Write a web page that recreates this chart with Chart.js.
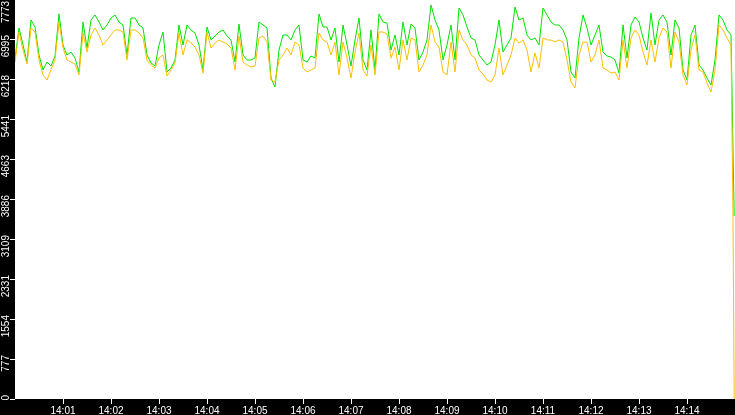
<!DOCTYPE html>
<html>
<head>
<meta charset="utf-8">
<script src="https://cdn.jsdelivr.net/npm/chart.js@4.4.1/dist/chart.umd.min.js"></script>
<style>
  html, body { margin: 0; padding: 0; background: #000; }
  canvas { display: block; }
</style>
</head>
<body>
<canvas id="c" width="735" height="415"></canvas>
<script>
// ---- data ----
const SAMPLE_STEP_SEC = 5;            // one reading every 5 s from 14:00:00
const END_TIMES_SEC = [897.5, 899];   // final readings just before 14:15

const GREEN = [
  6627,7210,6880,6549,7365,7229,6685,6394,6549,6471,6666,7482,6880,6685,6743,6627,6355,7326,6821,7365,
  7463,7326,7171,7268,7404,7463,7326,7268,6685,7404,7404,7268,7210,6685,6530,6471,6880,7132,6355,6433,
  6588,7268,6880,7268,7171,7113,6880,6394,7229,6977,7054,7132,7171,7054,6977,6549,7288,6685,6588,6588,
  6627,7326,7268,7210,6238,6063,6782,7074,7074,6977,7171,7268,6588,6549,6666,6627,7482,7229,7229,6977,
  7210,6549,7268,6880,6471,6977,7404,6588,6394,7171,6394,7482,7326,7307,6782,7074,6685,7326,6880,7288,
  7210,6588,6743,6977,7657,7365,7171,6588,6880,7268,6588,7599,7463,7229,7016,6977,6685,6588,6491,6549,
  6880,7365,6743,6880,7016,7618,7365,7404,7074,6977,7016,6880,7599,7463,7326,7268,7268,7171,6977,6355,
  6238,7016,7463,7210,6880,7074,7268,6743,6666,6646,6588,6335,7268,6627,7268,7424,7326,7016,6782,7501,
  6880,7365,7463,7326,6685,7365,7210,6394,6199,7074,7268,6491,6394,6238,6102,6588,7463,7365,7171,7074,
  3556
];

const YELLOW = [
  6549,7132,6782,6510,7210,7132,6588,6297,6199,6394,6588,7326,6821,6588,6549,6510,6297,7113,6743,7074,
  7210,7074,6880,6977,7074,7171,7171,7132,6588,7171,7171,7113,7016,6588,6491,6433,6627,6685,6277,6394,
  6530,7113,6685,6977,6918,6841,6685,6335,7132,6821,6918,6977,6938,6899,6821,6394,7054,6549,6491,6452,
  6471,7016,7054,6938,6199,6160,6588,6685,6821,6685,6938,6880,6433,6355,6394,6433,7113,6977,6938,6685,
  6938,6297,6938,6627,6238,6743,7113,6394,6277,6880,6297,7132,7132,7093,6627,6841,6394,6977,6588,7016,
  6977,6355,6491,6685,7268,6938,6841,6355,6297,6938,6355,7171,6977,6880,6685,6627,6394,6316,6199,6160,
  6297,6821,6297,6491,6685,7016,6918,6977,6782,6355,6724,6433,7016,6977,6977,6938,6977,6938,6588,6160,
  6044,6685,6938,6938,6549,6685,6977,6433,6394,6335,6355,6199,6977,6433,7016,7171,7074,6743,6491,6977,
  6549,7016,7210,7132,6433,7132,6938,6297,6102,6782,7074,6394,6355,6141,5966,6394,7268,7171,7016,6880,
  3518,0
];

const X_TICK_SECONDS = [60,120,180,240,300,360,420,480,540,600,660,720,780,840];
const X_TICK_LABELS  = ['14:01','14:02','14:03','14:04','14:05','14:06','14:07','14:08','14:09','14:10','14:11','14:12','14:13','14:14'];
// the top label sits just inside the plot (its tick is off the top edge)
const Y_TICK_VALUES  = [0,777.3,1554.6,2331.9,3109.2,3886.5,4663.8,5441.1,6218.4,6995.7,7660];
const Y_TICK_LABELS  = ['0','777','1554','2331','3109','3886','4663','5441','6218','6995','7773'];
const Y_MAX = 7754;
const X_MAX = 900;

// ---- build points ----
function toPoints(values, extra) {
  const regular = values.length - extra;
  return values.map((v, i) => ({
    x: i < regular ? i * SAMPLE_STEP_SEC : END_TIMES_SEC[i - regular + (2 - extra)],
    y: v
  }));
}

const whiteArea = {
  id: 'whiteArea',
  beforeDraw(chart) {
    const a = chart.chartArea, ctx = chart.ctx;
    ctx.save();
    ctx.fillStyle = '#ffffff';
    ctx.fillRect(a.left, a.top, a.right - a.left, a.bottom - a.top);
    ctx.restore();
  }
};

const FONT = { family: 'Liberation Sans', size: 10 };

new Chart(document.getElementById('c'), {
  type: 'line',
  data: {
    datasets: [
      { label: 'yellow', data: toPoints(YELLOW, 2), borderColor: '#ffbf00', borderWidth: 1,
        pointRadius: 0, tension: 0, fill: false },
      { label: 'green', data: toPoints(GREEN, 1), borderColor: '#00e400', borderWidth: 1,
        pointRadius: 0, tension: 0, fill: false }
    ]
  },
  options: {
    responsive: false,
    animation: false,
    devicePixelRatio: 1,
    layout: { padding: 0 },
    plugins: { legend: { display: false }, tooltip: { enabled: false } },
    scales: {
      x: {
        type: 'linear', min: 0, max: X_MAX,
        afterBuildTicks: s => { s.ticks = X_TICK_SECONDS.map(v => ({ value: v })); },
        ticks: { autoSkip: false, minRotation: 0, maxRotation: 0, color: '#ffffff', font: FONT, padding: 1,
                 callback: (v, i) => X_TICK_LABELS[i] },
        grid: { drawOnChartArea: false, drawTicks: true, tickLength: 5, color: '#ffffff', tickColor: '#ffffff' },
        border: { display: false },
        afterFit: s => { s.height = 16; s.paddingLeft = 0; s.paddingRight = 0; }
      },
      y: {
        type: 'linear', min: 0, max: Y_MAX,
        afterBuildTicks: s => { s.ticks = Y_TICK_VALUES.map(v => ({ value: v })); },
        ticks: { autoSkip: false, minRotation: 90, maxRotation: 90, color: '#ffffff', font: FONT,
                 padding: 4, labelOffset: -4, callback: (v, i) => Y_TICK_LABELS[i] },
        grid: { drawOnChartArea: false, drawTicks: true, tickLength: 5, color: '#ffffff',
                tickColor: ctx => (ctx.index === Y_TICK_VALUES.length - 1 ? 'rgba(0,0,0,0)' : '#ffffff') },
        border: { display: false },
        afterFit: s => { s.width = 15; s.paddingTop = 0; s.paddingBottom = 0; }
      }
    }
  },
  plugins: [whiteArea]
});
</script>
</body>
</html>
